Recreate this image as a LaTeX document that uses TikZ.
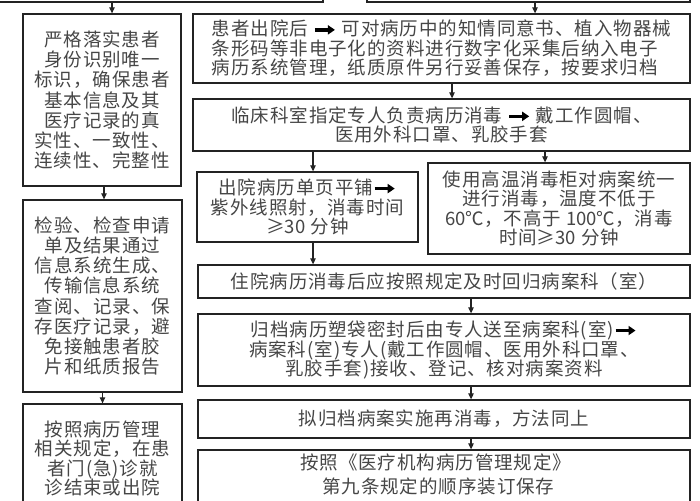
\documentclass[tikz,border=0pt]{standalone}
\usepackage{fontspec}
\newfontfamily\cjk[LetterSpace=5]{Noto Sans CJK SC}
\newfontfamily\cjkn{Noto Sans CJK SC}
\usetikzlibrary{arrows.meta}
\definecolor{txtc}{RGB}{70,70,70}
\definecolor{linec}{RGB}{35,35,35}
\newcommand\thickarr{\tikz[baseline=-6pt]\draw[black,line width=3.4pt,-{Triangle[length=7pt,width=9pt]}] (0pt,0pt)--(20pt,0pt);}
\newcommand\nl[1]{{\cjkn #1}}
\tikzset{
  box/.style={draw=linec, line width=1.3pt, inner sep=0pt, text=txtc, align=center,
              font=\cjk\fontsize{18.5}{19.5}\selectfont},
  lbox/.style={box, font=\cjk\fontsize{18.5}{20.2}\selectfont},
  txt/.style={inner sep=0pt, text=txtc, font=\cjk\fontsize{18.5}{19.5}\selectfont},
  arr/.style={draw=linec, line width=1.2pt, -{Triangle[length=6pt,width=5.5pt]}}
}
\begin{document}
\begin{tikzpicture}[x=1pt,y=-1pt]
\useasboundingbox (0,0) rectangle (700,500);
\fill[white] (0,0) rectangle (700,500);
\clip (0,0) rectangle (700,500);

% top partial boxes
\node[box, minimum width=328, minimum height=42] (topL) at (159,-19) {};
\node[box, minimum width=323, minimum height=42] (topR) at (528.5,-19) {};

% left column
\node[lbox, minimum width=158, minimum height=172] (L1) at (102,100)
  {严格落实患者\\身份识别唯一\\标识，确保患者\\基本信息及其\\医疗记录的真\\实性、一致性、\\连续性、完整性};
\node[lbox, minimum width=159, minimum height=192] (L2) at (102.5,296)
  {检验、检查申请\\单及结果通过\\信息系统生成、\\传输信息系统\\查阅、记录、保\\存医疗记录，避\\免接触患者胶\\片和纸质报告};
\node[lbox, minimum width=159, minimum height=136] (L3) at (102.5,472) {};
\foreach \t [count=\i] in {按照病历管理,相关规定，在患,者门(急)诊就,诊结束或出院}
  \node[txt, anchor=base] (L3t\i) at (102.5,436.5+19.3*\i-19.3) {\t};

% right column
\node[box, align=left, minimum width=497, minimum height=69] (R1) at (441.5,48.5)
  {患者出院后 \thickarr{} 可对病历中的知情同意书、植入物器械\\条形码等非电子化的资料进行数字化采集后纳入电子\\病历系统管理，纸质原件另行妥善保存，按要求归档};
\node[box, minimum width=497, minimum height=52] (R2) at (441.5,125)
  {临床科室指定专人负责病历消毒 \thickarr{} 戴工作圆帽、\\医用外科口罩、乳胶手套};
\node[box, minimum width=221, minimum height=70] (R3a) at (307.5,207)
  {出院病历单页平铺\thickarr\\紫外线照射，消毒时间\\\nl{≥30} 分钟};
\node[box, minimum width=262, minimum height=91] (R3b) at (559,208.5)
  {使用高温消毒柜对病案统一\\进行消毒，温度不低于\\\nl{60℃}，不高于 \nl{100℃}，消毒\\时间\nl{≥30} 分钟};
\node[box, minimum width=492, minimum height=33] (R4) at (444,281.5)
  {住院病历消毒后应按照规定及时回归病案科（室）};
\node[box, minimum width=492, minimum height=72] (R5) at (444,350)
  {归档病历塑袋密封后由专人送至病案科(室)\thickarr\\病案科(室)专人(戴工作圆帽、医用外科口罩、\\乳胶手套)接收、登记、核对病案资料};
\node[box, minimum width=492, minimum height=38] (R6) at (444,419)
  {拟归档病案实施再消毒，方法同上};
\node[box, minimum width=492, minimum height=90] (R7) at (444,495) {};
\node[txt, anchor=base west] (R7t1) at (300,469.5) {按照《医疗机构病历管理规定》};
\node[txt, anchor=base west] (R7t2) at (322,493.5) {第九条规定的顺序装订保存};

% connectors
\draw[arr] ([xshift=-47]topL.south) -- ([xshift=10]L1.north);
\draw[arr] ([xshift=2]L1.south) -- ([xshift=1.5]L2.north);
\draw[arr] (L2.south) -- (L3.north);
\draw[arr] ([xshift=6.5]topR.south) -- ([xshift=93.5]R1.north);
\draw[arr] ([xshift=10.5]R1.south) -- ([xshift=10.5]R2.north);
\draw[arr] ([xshift=-128.5]R2.south) -- ([xshift=5.5]R3a.north);
\draw[arr] ([xshift=103.5]R2.south) -- ([xshift=-14]R3b.north);
\draw[arr] ([xshift=5.5]R3a.south) -- ([xshift=-131]R4.north);
\draw[arr] ([xshift=27]R4.south) -- ([xshift=27]R5.north);
\draw[arr] ([xshift=27]R5.south) -- ([xshift=27]R6.north);
\draw[arr] ([xshift=27]R6.south) -- ([xshift=27]R7.north);
\end{tikzpicture}
\end{document}
